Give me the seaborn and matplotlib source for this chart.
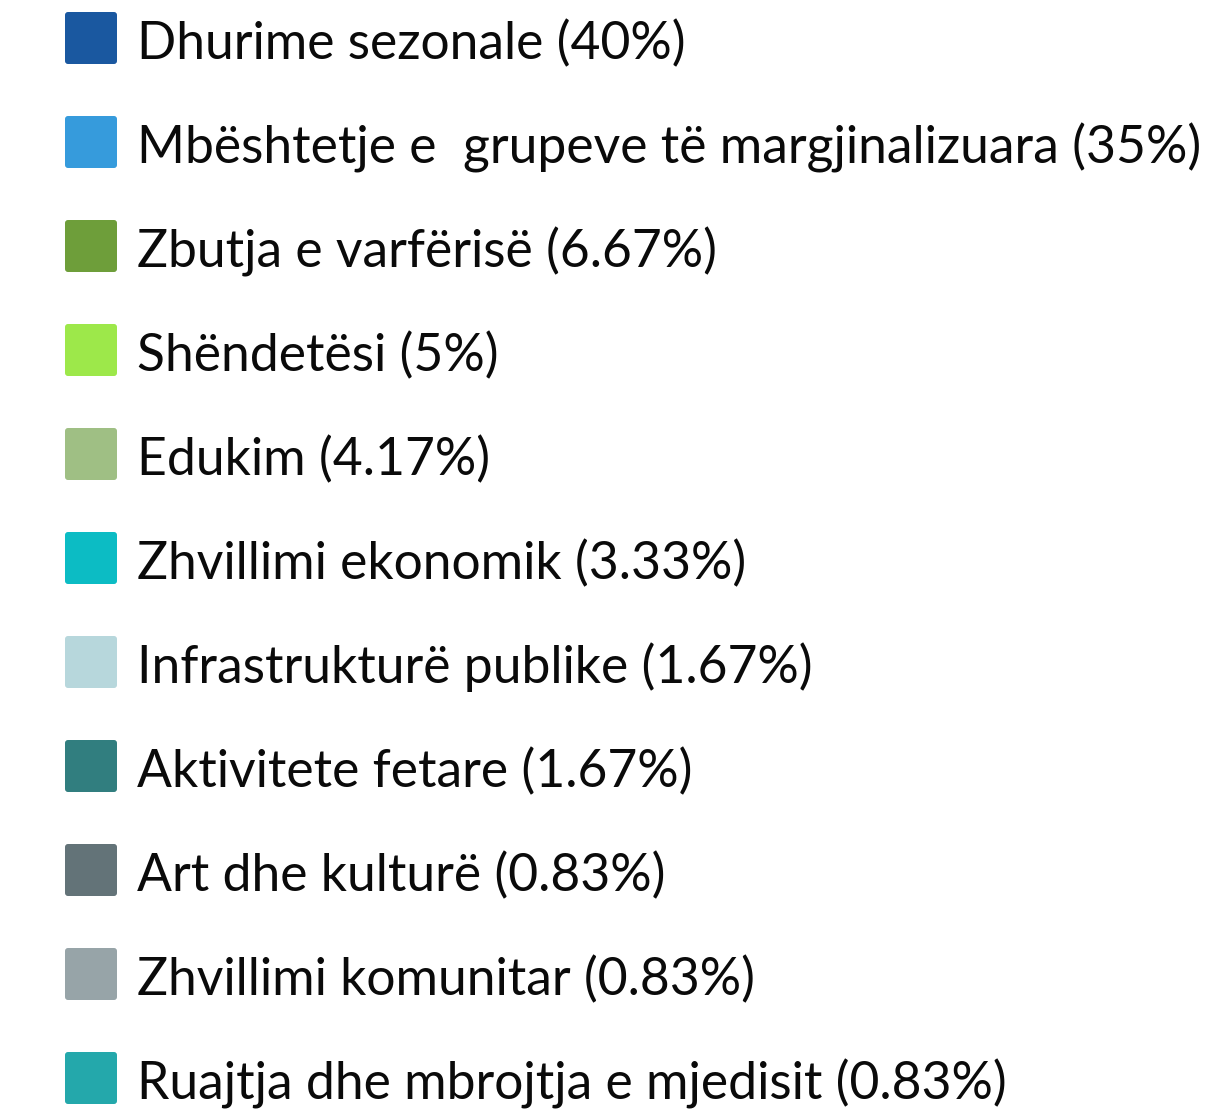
import matplotlib
matplotlib.use("Agg")
import matplotlib.pyplot as plt
from matplotlib.patches import FancyBboxPatch
import seaborn as sns

# legend data
categories = [
    "Dhurime sezonale",
    "Mbështetje e  grupeve të margjinalizuara",
    "Zbutja e varfërisë",
    "Shëndetësi",
    "Edukim",
    "Zhvillimi ekonomik",
    "Infrastrukturë publike",
    "Aktivitete fetare",
    "Art dhe kulturë",
    "Zhvillimi komunitar",
    "Ruajtja dhe mbrojtja e mjedisit",
]
shares = ["40%", "35%", "6.67%", "5%", "4.17%", "3.33%", "1.67%", "1.67%", "0.83%", "0.83%", "0.83%"]
colors = ["#1a58a0", "#369bdc", "#6e9e3a", "#9de84a", "#9fbf84", "#0cbcc4",
          "#b7d7dc", "#317e7f", "#637378", "#97a4a8", "#24a8ab"]

sns.set_theme(style="white")
plt.rcParams["font.family"] = ["Lato", "DejaVu Sans"]

W, H = 1224, 1119
fig = plt.figure(figsize=(W / 100, H / 100), dpi=100)
ax = fig.add_axes([0, 0, 1, 1])
ax.set_xlim(0, W)
ax.set_ylim(H, 0)
ax.axis("off")

row_gap = 104
first = 38
sw = 52
for i, (cat, pct, col) in enumerate(zip(categories, shares, colors)):
    yc = first + i * row_gap
    box = FancyBboxPatch((65 + 3, yc - sw / 2 + 3), sw - 6, sw - 6,
                         boxstyle="round,pad=3", facecolor=col, edgecolor="none")
    ax.add_patch(box)
    ax.text(137, yc + 21.5, f"{cat} ({pct})", fontsize=37.2, color="#0a0a0a",
            va="baseline", ha="left")

fig.savefig("out.png", dpi=100)
